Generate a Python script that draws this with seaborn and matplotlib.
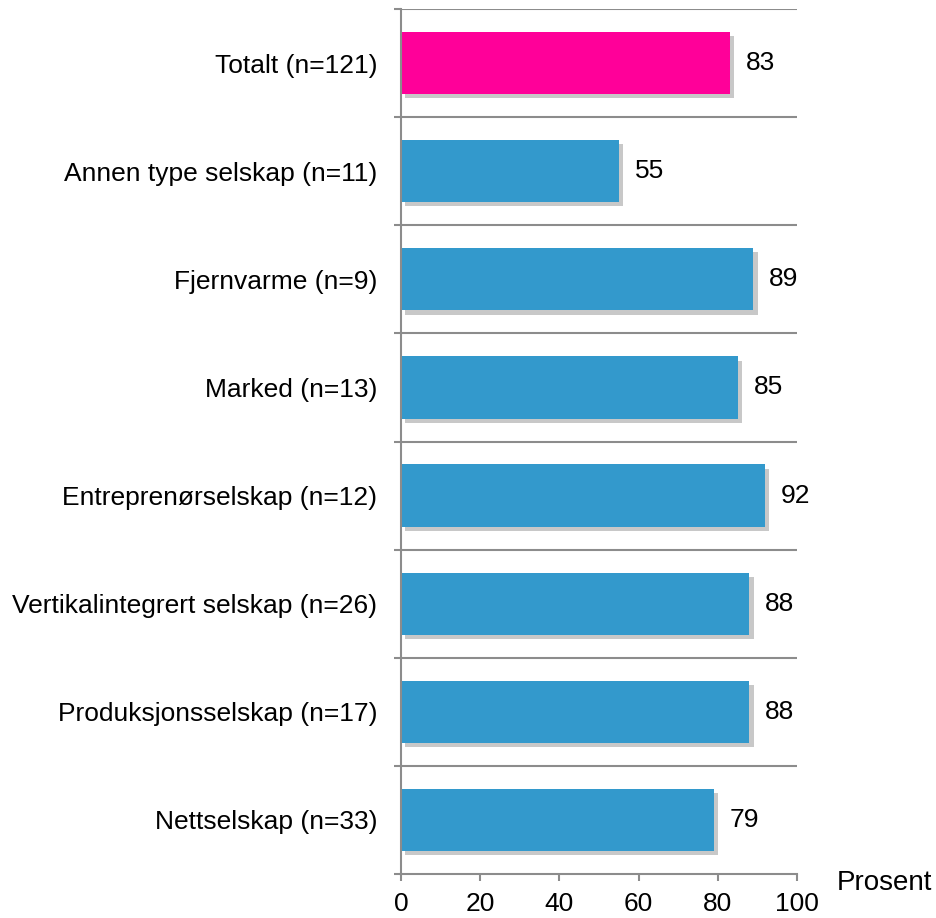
from matplotlib import pyplot as plt
from matplotlib import patheffects
import seaborn as sns
import numpy as np
import pandas as pd


# Dados
kategorier = ['Totalt (n=121)', 'Annen type selskap (n=11)', 'Fjernvarme (n=9)',
              'Marked (n=13)', 'Entreprenørselskap (n=12)',
              'Vertikalintegrert selskap (n=26)', 'Produksjonsselskap (n=17)',
              'Nettselskap (n=33)']
verdier = [83, 55, 89, 85, 92, 88, 88, 79]
x_ticks = [0, 20, 40, 60, 80, 100]

farger = {k: '#3399CC' for k in kategorier}
farger[kategorier[0]] = '#FF0099'

df = pd.DataFrame({'kategori': kategorier, 'verdi': verdier})

sns.set_style('white')
plt.rcParams['font.family'] = ['Liberation Sans', 'DejaVu Sans']
plt.rcParams['text.color'] = 'black'
plt.rcParams['xtick.color'] = 'black'
plt.rcParams['ytick.color'] = 'black'

fig = plt.figure(figsize=(9.37, 9.18), dpi=100)
ax = fig.add_axes([401 / 937, 1 - 874 / 918, 396 / 937, 865 / 918])

sns.barplot(data=df, x='verdi', y='kategori', hue='kategori', palette=farger,
            orient='h', width=0.575, saturation=1, linewidth=0, legend=False, ax=ax)

# skygge på søylene
for p in ax.patches:
    p.set_edgecolor('none')
    p.set_path_effects([patheffects.SimplePatchShadow(offset=(3, -3), shadow_rgbFace='#777777', alpha=0.4),
                        patheffects.Normal()])

# verdier
for i, v in enumerate(verdier):
    ax.text(v + 4, i, str(v), va='center', ha='left', fontsize=19, color='black')

ax.set_xlim(0, 100)
ax.set_ylim(len(kategorier) - 0.5, -0.5)
ax.set_xticks(x_ticks)
ax.set_xlabel('')
ax.set_ylabel('')

# skillelinjer mellom kategoriene
grenser = np.arange(len(kategorier) + 1) - 0.5
for g in grenser[:-1]:
    ax.axhline(g, color='#8c8c8c', lw=1.5, zorder=0.5)
ax.set_yticks(grenser, minor=True)
ax.tick_params(axis='y', which='minor', length=5, width=1.5, color='#8c8c8c', direction='out', left=True)
ax.tick_params(axis='y', which='major', length=0, pad=17, labelsize=19, labelcolor='black')
ax.tick_params(axis='x', which='major', length=5, width=1.5, color='#8c8c8c', direction='out',
               bottom=True, pad=8, labelsize=19, labelcolor='black')

for s in ['top', 'right']:
    ax.spines[s].set_visible(False)
for s in ['left', 'bottom']:
    ax.spines[s].set_color('#8c8c8c')
    ax.spines[s].set_linewidth(1.5)

fig.text(837 / 937, 1 - 883 / 918, 'Prosent', fontsize=20, va='center', ha='left', color='black')

plt.savefig('out.png', dpi=100)
